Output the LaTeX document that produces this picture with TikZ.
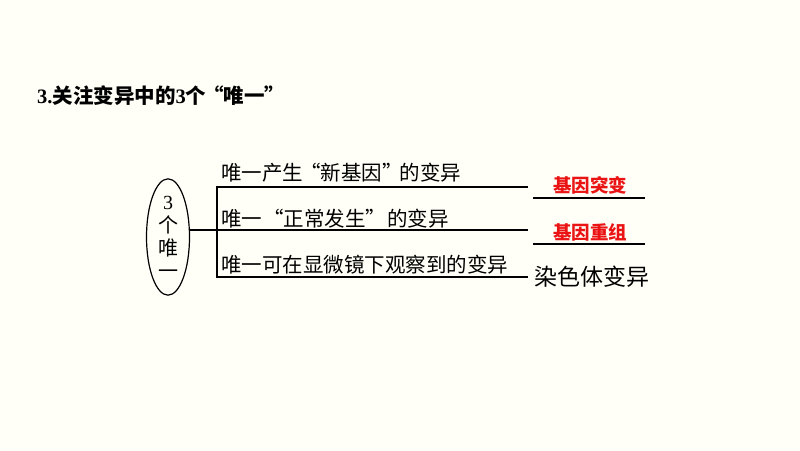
\documentclass[tikz,border=0pt]{standalone}
\usepackage{fontspec}
\setmainfont{Liberation Serif}
\newfontfamily\cjk{Noto Sans CJK SC}
\usetikzlibrary{shapes.geometric}
\definecolor{bg}{RGB}{255,255,248}
\definecolor{ans}{RGB}{235,20,20}
\newcommand{\oq}{\makebox[0.85em][r]{“}}
\newcommand{\cq}{\makebox[0.85em][l]{”}}
\tikzset{
  item/.style={anchor=west,inner sep=0pt,font=\cjk\fontsize{20.5}{22}\selectfont},
  answer/.style={inner sep=0pt,font=\cjk\bfseries\fontsize{18.5}{22}\selectfont,text=ans},
  line/.style={draw=black,line width=1.2pt},
}
\begin{document}
\begin{tikzpicture}[x=1pt,y=-1pt]
\fill[bg] (0,0) rectangle (800,450);
\useasboundingbox (0,0) rectangle (800,450);
\node[anchor=west,inner sep=0pt,font=\bfseries\fontsize{20.5}{22}\selectfont] (title) at (37,96) {3.{\cjk 关注变异中的}3{\cjk 个\oq 唯一\cq}};
\node[ellipse,draw,line width=1.2pt,minimum width=43,minimum height=111,inner sep=0pt,align=center,font=\fontsize{20}{23}\selectfont] (e) at (168,237) {3\\{\cjk 个}\\{\cjk 唯}\\{\cjk 一}};
\coordinate (j) at (217,230);
\coordinate (t) at (217,187);
\coordinate (b) at (217,277);
\coordinate (t2) at (528,187);
\coordinate (m2) at (528,230);
\coordinate (b2) at (528,277);
\coordinate (u1a) at (533,198);
\coordinate (u1b) at (645,198);
\coordinate (u2a) at (533,244);
\coordinate (u2b) at (645,244);
\draw[line] (e.east |- j) -- (j);
\draw[line] (t2) -- (t) -- (b) -- (b2);
\draw[line] (j) -- (m2);
\draw[line] (u1a) -- (u1b);
\draw[line] (u2a) -- (u2b);
\node[item] (i1) at (221,173) {唯一产生\oq 新基因\cq 的变异};
\node[item] (i2) at (221,219) {唯一\hspace{4pt}\oq 正常发生\cq\hspace{4pt}的变异};
\node[item] (i3) at (221,265) {唯一可在显微镜下观察到的变异};
\node[answer] (a1) at (590,185) {基因突变};
\node[answer] (a2) at (590,232) {基因重组};
\node[inner sep=0pt,font=\cjk\fontsize{23}{26}\selectfont] (a3) at (592,277) {染色体变异};
\end{tikzpicture}
\end{document}
